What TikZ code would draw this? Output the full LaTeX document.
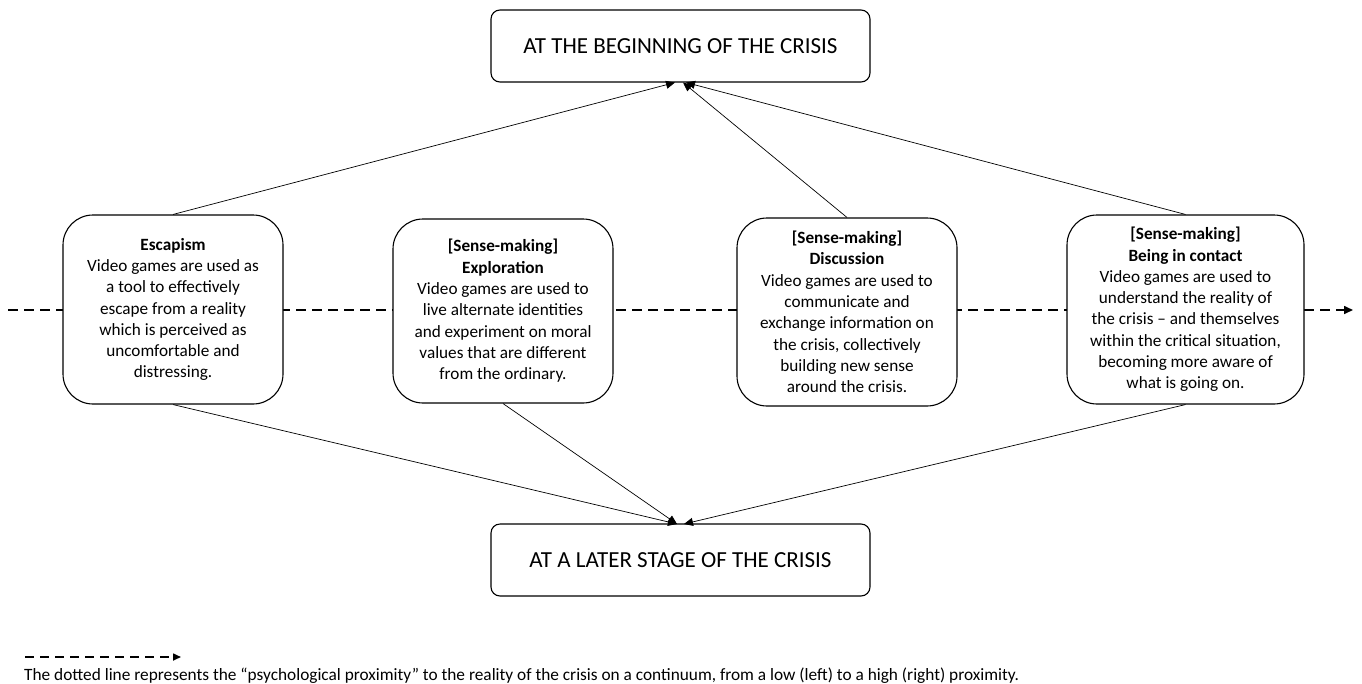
\documentclass[tikz,border=0pt]{standalone}
\usepackage{fontspec}
\setmainfont{Carlito}
\usetikzlibrary{arrows.meta,calc}
\begin{document}
\begin{tikzpicture}[x=1pt,y=-1pt,
  stage/.style={draw,line width=1.1pt,rounded corners=9pt,minimum width=379pt,minimum height=72pt,inner sep=0pt,font=\fontsize{23}{27}\selectfont,fill=white},
  mode/.style={draw,line width=1.1pt,rounded corners=30pt,inner sep=0pt,align=center,font=\fontsize{17.2}{21.3}\selectfont,fill=white},
  link/.style={line width=0.7pt,-{Triangle[length=9pt,width=8pt]}},
  cont/.style={line width=1.6pt,dash pattern=on 10pt off 6pt,-{Triangle[length=9pt,width=8pt]}}]
\useasboundingbox (0,0) rectangle (1362,683);
% continuum line
\coordinate (cl) at (8,310);
\coordinate (cr) at (1353,310);
\draw[cont] (cl) -- (cr);
% stage boxes
\node[stage] (top) at (680.5,46) {AT THE BEGINNING OF THE CRISIS};
\node[stage] (bot) at (680.5,560) {AT A LATER STAGE OF THE CRISIS};
% mode boxes
\node[mode,minimum width=220pt,minimum height=189pt] (b1) at (173,309.5) {\textbf{Escapism}\\Video games are used as\\a tool to effectively\\escape from a reality\\which is perceived as\\uncomfortable and\\distressing.};
\node[mode,minimum width=220pt,minimum height=184pt] (b2) at (503,311) {\textbf{[Sense-making]}\\\textbf{Exploration}\\Video games are used to\\live alternate identities\\and experiment on moral\\values that are different\\from the ordinary.};
\node[mode,minimum width=220pt,minimum height=188pt] (b3) at (847,312) {\textbf{[Sense-making]}\\\textbf{Discussion}\\Video games are used to\\communicate and\\exchange information on\\the crisis, collectively\\building new sense\\around the crisis.};
\node[mode,minimum width=237pt,minimum height=189pt] (b4) at (1185.5,309.5) {\textbf{[Sense-making]}\\\textbf{Being in contact}\\Video games are used to\\understand the reality of\\the crisis – and themselves\\within the critical situation,\\becoming more aware of\\what is going on.};
% arrow targets
\coordinate (t1) at (675,82.5);
\coordinate (t3) at (683,82.5);
\coordinate (t4) at (686,82.5);
\coordinate (u1) at (677,524);
\coordinate (u4) at (684,524);
\draw[link] (b1.north) -- (t1);
\draw[link] (b3.north) -- (t3);
\draw[link] (b4.north) -- (t4);
\draw[link] (b1.south) -- (u1);
\draw[link] (b2.south) -- (u1);
\draw[link] (b4.south) -- (u4);
% legend
\coordinate (la) at (25,657);
\coordinate (lb) at (181,657);
\draw[line width=1.6pt,dash pattern=on 9pt off 6pt,-{Triangle[length=8pt,width=7pt]}] (la) -- (lb);
\node[anchor=base west,inner sep=0pt,font=\fontsize{17.3}{20}\selectfont] (leg) at (24,680) {The dotted line represents the “psychological proximity” to the reality of the crisis on a continuum, from a low (left) to a high (right) proximity.};
\end{tikzpicture}
\end{document}
